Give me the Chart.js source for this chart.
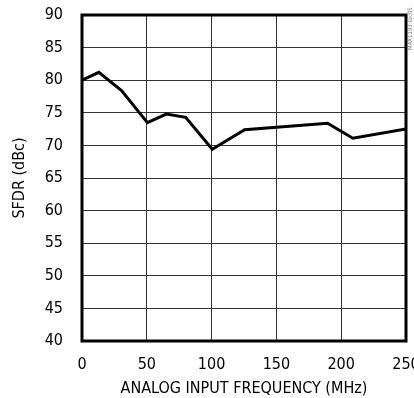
<!DOCTYPE html>
<html>
<head>
<meta charset="utf-8">
<script src="https://cdn.jsdelivr.net/npm/chart.js@4/dist/chart.umd.min.js"></script>
<style>
    html, body { margin: 0; padding: 0; background: #fff; }
    #wrap { width: 414px; height: 398px; }
</style>
</head>
<body>
<div id="wrap"><canvas id="sfdr-chart" width="414" height="398"></canvas></div>
<script>
// SFDR vs analog input frequency
const freqMHz = [0, 13, 30.5, 50.5, 65, 80, 100.5, 125.5, 189.5, 209, 250];
const sfdrDbc = [80, 81.2, 78.4, 73.5, 74.8, 74.3, 69.4, 72.4, 73.4, 71.1, 72.5];
const xTicks = [0, 50, 100, 150, 200, 250];
const yTicks = [40, 45, 50, 55, 60, 65, 70, 75, 80, 85, 90];

const fontFamily = '"Liberation Sans Narrow", "DejaVu Sans Condensed", "Liberation Sans", sans-serif';

// thick frame around the plot + the small vertical part code
const framePlugin = {
    id: 'frame',
    afterDraw(chart) {
        const { ctx, chartArea: a } = chart;
        ctx.save();
        ctx.strokeStyle = '#000';
        ctx.lineWidth = 3;
        ctx.strokeRect(a.left, a.top, a.right - a.left, a.bottom - a.top);

        ctx.translate(410, 50);
        ctx.rotate(-Math.PI / 2);
        ctx.fillStyle = '#777';
        ctx.font = '6px ' + fontFamily;
        ctx.textBaseline = 'middle';
        ctx.fillText('MAX1193 toc05', 0, 0);
        ctx.restore();
    }
};

new Chart(document.getElementById('sfdr-chart'), {
    type: 'line',
    data: {
        datasets: [{
            data: freqMHz.map((f, i) => ({ x: f, y: sfdrDbc[i] })),
            borderColor: '#000',
            borderWidth: 3,
            pointRadius: 0,
            tension: 0,
            fill: false
        }]
    },
    options: {
        responsive: false,
        animation: false,
        devicePixelRatio: 1,
        layout: { padding: { left: 0, right: 8, top: 15, bottom: 0 } },
        plugins: {
            legend: { display: false },
            tooltip: { enabled: false }
        },
        scales: {
            x: {
                type: 'linear',
                min: 0,
                max: 250,
                afterBuildTicks: s => { s.ticks = xTicks.map(v => ({ value: v })); },
                afterFit: s => { s.height = 57; s.paddingLeft = 0; s.paddingRight = 0; },
                grid: { color: '#333', lineWidth: 1, drawTicks: false },
                border: { display: false },
                ticks: { color: '#000', padding: 14, maxRotation: 0, font: { family: fontFamily, size: 16 } },
                title: {
                    display: true,
                    text: 'ANALOG INPUT FREQUENCY (MHz)',
                    color: '#000',
                    padding: { top: 7, bottom: 0 },
                    font: { family: fontFamily, size: 16 }
                }
            },
            y: {
                type: 'linear',
                min: 40,
                max: 90,
                afterBuildTicks: s => { s.ticks = yTicks.map(v => ({ value: v })); },
                afterFit: s => { s.width = 82; s.paddingTop = 0; s.paddingBottom = 0; },
                grid: { color: '#333', lineWidth: 1, drawTicks: false },
                border: { display: false },
                ticks: { color: '#000', padding: 19, font: { family: fontFamily, size: 16 } },
                title: {
                    display: true,
                    text: 'SFDR (dBc)',
                    color: '#000',
                    padding: { top: 10, bottom: 0 },
                    font: { family: fontFamily, size: 16 }
                }
            }
        }
    },
    plugins: [framePlugin]
});
</script>
</body>
</html>
